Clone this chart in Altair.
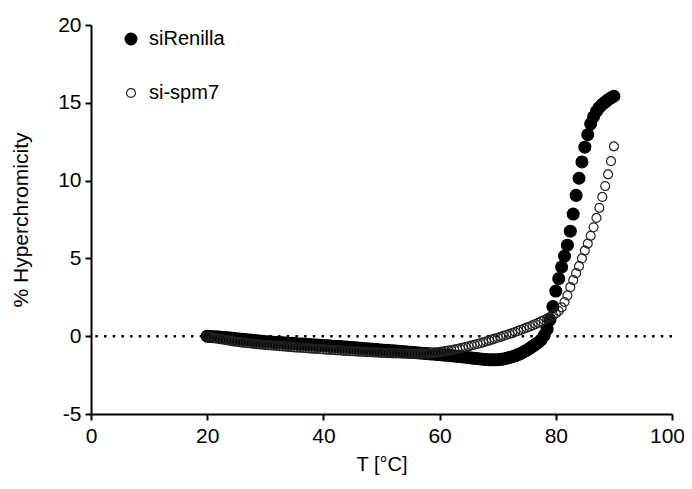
import altair as alt
import pandas as pd

temperature = [
    20.0, 20.5, 21.0, 21.5, 22.0, 22.5, 23.0, 23.5, 24.0, 24.5,
    25.0, 25.5, 26.0, 26.5, 27.0, 27.5, 28.0, 28.5, 29.0, 29.5,
    30.0, 30.5, 31.0, 31.5, 32.0, 32.5, 33.0, 33.5, 34.0, 34.5,
    35.0, 35.5, 36.0, 36.5, 37.0, 37.5, 38.0, 38.5, 39.0, 39.5,
    40.0, 40.5, 41.0, 41.5, 42.0, 42.5, 43.0, 43.5, 44.0, 44.5,
    45.0, 45.5, 46.0, 46.5, 47.0, 47.5, 48.0, 48.5, 49.0, 49.5,
    50.0, 50.5, 51.0, 51.5, 52.0, 52.5, 53.0, 53.5, 54.0, 54.5,
    55.0, 55.5, 56.0, 56.5, 57.0, 57.5, 58.0, 58.5, 59.0, 59.5,
    60.0, 60.5, 61.0, 61.5, 62.0, 62.5, 63.0, 63.5, 64.0, 64.5,
    65.0, 65.5, 66.0, 66.5, 67.0, 67.5, 68.0, 68.5, 69.0, 69.5,
    70.0, 70.5, 71.0, 71.5, 72.0, 72.5, 73.0, 73.5, 74.0, 74.5,
    75.0, 75.5, 76.0, 76.5, 77.0, 77.5, 78.0, 78.5, 79.0, 79.5,
    80.0, 80.5, 81.0, 81.5, 82.0, 82.5, 83.0, 83.5, 84.0, 84.5,
    85.0, 85.5, 86.0, 86.5, 87.0, 87.5, 88.0, 88.5, 89.0, 89.5,
    90.0,
]

si_renilla = [
    0.00, -0.02, -0.03, -0.04, -0.05, -0.07, -0.09, -0.10, -0.12, -0.14,
    -0.16, -0.18, -0.20, -0.22, -0.24, -0.25, -0.27, -0.29, -0.31, -0.33,
    -0.35, -0.36, -0.37, -0.39, -0.40, -0.41, -0.42, -0.44, -0.45, -0.46,
    -0.47, -0.49, -0.50, -0.51, -0.52, -0.54, -0.55, -0.56, -0.57, -0.59,
    -0.60, -0.61, -0.62, -0.64, -0.65, -0.66, -0.67, -0.69, -0.70, -0.72,
    -0.73, -0.75, -0.76, -0.78, -0.79, -0.81, -0.82, -0.84, -0.85, -0.87,
    -0.88, -0.90, -0.91, -0.93, -0.94, -0.96, -0.97, -0.99, -1.00, -1.02,
    -1.03, -1.05, -1.06, -1.08, -1.09, -1.11, -1.12, -1.14, -1.15, -1.17,
    -1.18, -1.20, -1.22, -1.23, -1.25, -1.27, -1.29, -1.31, -1.33, -1.35,
    -1.38, -1.40, -1.42, -1.44, -1.46, -1.48, -1.50, -1.51, -1.52, -1.52,
    -1.51, -1.49, -1.46, -1.42, -1.37, -1.32, -1.26, -1.18, -1.10, -1.00,
    -0.90, -0.78, -0.65, -0.52, -0.40, -0.22, 0.05, 0.45, 1.05, 1.90,
    2.90, 3.70, 4.45, 5.15, 5.85, 6.75, 7.85, 9.05, 10.15, 11.20,
    12.15, 12.95, 13.65, 14.10, 14.45, 14.70, 14.90, 15.05, 15.20, 15.32,
    15.42,
]

si_spm7 = [
    0.00, -0.05, -0.10, -0.14, -0.18, -0.21, -0.24, -0.27, -0.30, -0.33,
    -0.36, -0.38, -0.41, -0.43, -0.45, -0.47, -0.49, -0.51, -0.53, -0.55,
    -0.57, -0.58, -0.60, -0.61, -0.63, -0.64, -0.66, -0.67, -0.69, -0.70,
    -0.72, -0.73, -0.74, -0.76, -0.77, -0.78, -0.80, -0.81, -0.82, -0.84,
    -0.85, -0.86, -0.87, -0.89, -0.90, -0.91, -0.92, -0.94, -0.95, -0.96,
    -0.97, -0.98, -0.99, -1.00, -1.01, -1.02, -1.03, -1.04, -1.05, -1.06,
    -1.07, -1.08, -1.09, -1.09, -1.10, -1.11, -1.11, -1.12, -1.12, -1.13,
    -1.13, -1.13, -1.13, -1.13, -1.12, -1.11, -1.10, -1.08, -1.06, -1.04,
    -1.02, -0.99, -0.96, -0.93, -0.90, -0.86, -0.82, -0.78, -0.74, -0.70,
    -0.65, -0.60, -0.55, -0.50, -0.45, -0.40, -0.34, -0.28, -0.22, -0.16,
    -0.10, -0.04, 0.02, 0.08, 0.14, 0.20, 0.27, 0.34, 0.41, 0.48,
    0.55, 0.62, 0.70, 0.78, 0.86, 0.95, 1.04, 1.13, 1.23, 1.34,
    1.46, 1.62, 1.85, 2.20, 2.62, 3.15, 3.60, 4.05, 4.50, 5.00,
    5.50, 5.95, 6.45, 7.00, 7.60, 8.25, 8.95, 9.65, 10.40, 11.25,
    12.20,
]

series_names = ["siRenilla", "si-spm7"]
x_ticks = [0, 20, 40, 60, 80, 100]
y_ticks = [-5, 0, 5, 10, 15, 20]

df = pd.concat([
    pd.DataFrame({"T": temperature, "value": si_renilla, "series": series_names[0], "order": 0}),
    pd.DataFrame({"T": temperature, "value": si_spm7, "series": series_names[1], "order": 1}),
], ignore_index=True)

FONT = "Liberation Sans"

legend = alt.Legend(title=None, orient="none", legendX=30, legendY=4,
                    labelFontSize=20, labelFont=FONT, labelColor="black",
                    rowPadding=34, labelOffset=8, symbolStrokeWidth=1.2)

x_enc = alt.X("T:Q", scale=alt.Scale(domain=[0, 100], nice=False, zero=False),
              axis=alt.Axis(values=x_ticks, title="T [°C]", labelPadding=5, titlePadding=8,
                            titleFontSize=20, labelFlush=False,
                            labelOffset={"condition": {"test": "datum.value == 100", "value": -5},
                                         "value": 0}))
y_enc = alt.Y("value:Q", scale=alt.Scale(domain=[-5, 20], nice=False, zero=False),
              axis=alt.Axis(values=y_ticks, title="% Hyperchromicity", labelPadding=4,
                            titlePadding=26, labelFlush=False,
                            labelExpr="'' + datum.value"))

zero_line = alt.Chart(pd.DataFrame({"v": [0]})).mark_rule(
    color="black", strokeWidth=2.5, strokeDash=[2.5, 6.2]
).encode(y=alt.Y("v:Q", scale=alt.Scale(domain=[-5, 20], nice=False, zero=False)))

points = alt.Chart(df).mark_point(shape="circle", opacity=1, strokeWidth=1.2).encode(
    x=x_enc,
    y=y_enc,
    fill=alt.Fill("series:N", scale=alt.Scale(domain=series_names, range=["#000000", "transparent"]),
                  legend=legend),
    stroke=alt.Stroke("series:N", scale=alt.Scale(domain=series_names, range=["#000000", "#222222"]),
                      legend=legend),
    size=alt.Size("series:N", scale=alt.Scale(domain=series_names, range=[140, 80]),
                  legend=legend),
    order=alt.Order("order:Q"),
)

chart = alt.layer(zero_line, points).properties(
    width=581, height=389,
    autosize=alt.AutoSizeParams(type="none"),
    padding={"left": 83, "top": 17, "right": 12, "bottom": 62},
).configure_view(stroke=None).configure_axis(
    domainColor="black", domainWidth=2, tickColor="black", tickWidth=2, tickSize=6,
    labelFont=FONT, labelFontSize=21, labelColor="black",
    titleFont=FONT, titleFontSize=21, titleFontWeight="normal", titleColor="black",
    grid=False,
)

chart.save("out.html", embed_options={"renderer": "svg", "actions": False})
